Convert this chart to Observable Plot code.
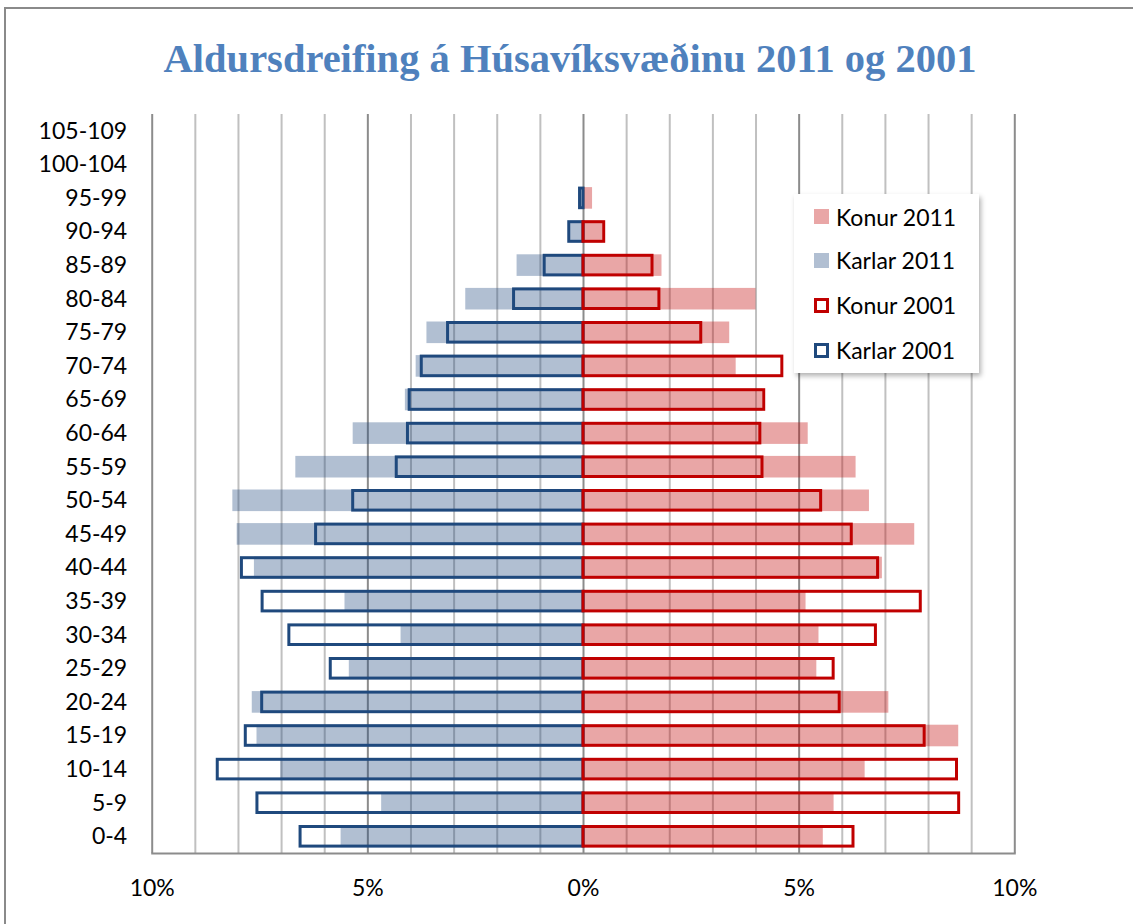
<!DOCTYPE html>
<html>
<head>
<meta charset="utf-8">
<script src="https://cdn.jsdelivr.net/npm/d3@7"></script>
<script src="https://cdn.jsdelivr.net/npm/@observablehq/plot@0.6"></script>
<style>
  html, body { margin: 0; padding: 0; background: #fff; }
  #wrap { position: relative; width: 1133px; height: 924px; overflow: hidden; background: #fff; }
  #frame { position: absolute; left: 4px; top: 7px; width: 1300px; height: 1100px; border-left: 2px solid #8a8a8a; border-top: 2px solid #8a8a8a; }
  #title { position: absolute; left: 0; top: 35px; width: 1140px; text-align: center; font-family: "Liberation Serif", serif; font-weight: bold; font-size: 40.5px; color: #4F81BD; }
  #chart { position: absolute; left: 0; top: 100px; }
  #legend { position: absolute; left: 794px; top: 194px; width: 185px; height: 179px; background: #fff; box-shadow: 2px 3px 5px rgba(0,0,0,0.3); font-family: Lato, sans-serif; font-size: 23px; color: #000; }
  .item { position: absolute; left: 20px; height: 24px; display: flex; align-items: center; }
  .sw { width: 15px; height: 15px; box-sizing: border-box; margin-right: 7px; }
</style>
</head>
<body>
<div id="wrap">
  <div id="frame"></div>
  <div id="title">Aldursdreifing á Húsavíksvæðinu 2011 og 2001</div>
  <div id="chart"></div>
  <div id="legend"></div>
</div>
<script>
const ageGroups = ["0-4","5-9","10-14","15-19","20-24","25-29","30-34","35-39","40-44","45-49","50-54","55-59","60-64","65-69","70-74","75-79","80-84","85-89","90-94","95-99","100-104","105-109"];
const konur2011  = [5.56,5.81,6.53,8.70,7.08,5.41,5.46,5.16,6.93,7.68,6.63,6.32,5.21,4.15,3.54,3.39,4.00,1.82,0.45,0.21,0,0];
const karlar2011 = [5.62,4.68,7.02,7.57,7.68,5.43,4.23,5.53,7.63,8.03,8.13,6.67,5.34,4.13,3.88,3.63,2.73,1.54,0.30,0.06,0,0];
const konur2001  = [6.26,8.71,8.66,7.91,5.94,5.80,6.78,7.82,6.83,6.22,5.51,4.15,4.10,4.19,4.61,2.73,1.76,1.60,0.48,0,0,0];
const karlar2001 = [6.56,7.56,8.48,7.83,7.45,5.86,6.82,7.44,7.92,6.20,5.34,4.33,4.07,4.03,3.75,3.14,1.61,0.90,0.33,0.08,0,0];
const xTicks = [-10,-5,0,5,10];
const seriesNames = ["Konur 2011","Karlar 2011","Konur 2001","Karlar 2001"];

const blue = "#1F497D", red = "#C00000";

const rows = ageGroups.map((a,i)=>({age:a, k11:konur2011[i], m11:karlar2011[i], k01:konur2001[i], m01:karlar2001[i]}));

const chart = Plot.plot({
  width: 1133, height: 824,
  marginTop: 13.9, marginBottom: 70.9, marginLeft: 151.7, marginRight: 118.7,
  style: {fontFamily: "Lato, sans-serif", fontSize: "23px", color: "#000", background: "transparent"},
  x: {domain: [-10, 10], label: null},
  y: {domain: ageGroups.slice().reverse(), padding: 0, round: false, label: null},
  marks: [
    Plot.ruleX(d3.range(-10, 11).filter(d => d % 5 !== 0), {stroke: "#c0c0c0", strokeWidth: 2}),
    Plot.ruleX(xTicks, {stroke: "#8c8c8c", strokeWidth: 2}),
    Plot.frame({anchor: "bottom", stroke: "#8c8c8c", strokeWidth: 2}),
    Plot.barX(rows, {y: "age", x1: 0, x2: d => -d.m11, fill: blue, fillOpacity: 0.35, insetTop: 6, insetBottom: 6}),
    Plot.barX(rows, {y: "age", x1: 0, x2: "k11", fill: red, fillOpacity: 0.35, insetTop: 6, insetBottom: 6}),
    Plot.barX(rows.filter(d => d.m01 > 0), {y: "age", x1: 0, x2: d => -d.m01, fill: "none", stroke: blue, strokeWidth: 3, insetTop: 7, insetBottom: 7}),
    Plot.barX(rows.filter(d => d.k01 > 0), {y: "age", x1: 0, x2: "k01", fill: "none", stroke: red, strokeWidth: 3, insetTop: 7, insetBottom: 7}),
    Plot.axisX({ticks: xTicks, tickFormat: d => Math.abs(d) + "%", tickSize: 0, tickPadding: 26, fontSize: 23}),
    Plot.axisY({tickSize: 0, tickPadding: 25, fontSize: 23})
  ]
});
document.getElementById("chart").appendChild(chart);

const legend = document.getElementById("legend");
const swStyles = [
  `background:${red};opacity:0.35;`,
  `background:${blue};opacity:0.35;`,
  `border:3px solid ${red};background:#fff;`,
  `border:3px solid ${blue};background:#fff;`
];
const tops = [10.7, 54, 99.3, 144];
seriesNames.forEach((name, i) => {
  const it = document.createElement("div");
  it.className = "item";
  it.style.top = tops[i] + "px";
  it.innerHTML = `<div class="sw" style="${swStyles[i]}"></div><span>${name}</span>`;
  legend.appendChild(it);
});
</script>
</body>
</html>
